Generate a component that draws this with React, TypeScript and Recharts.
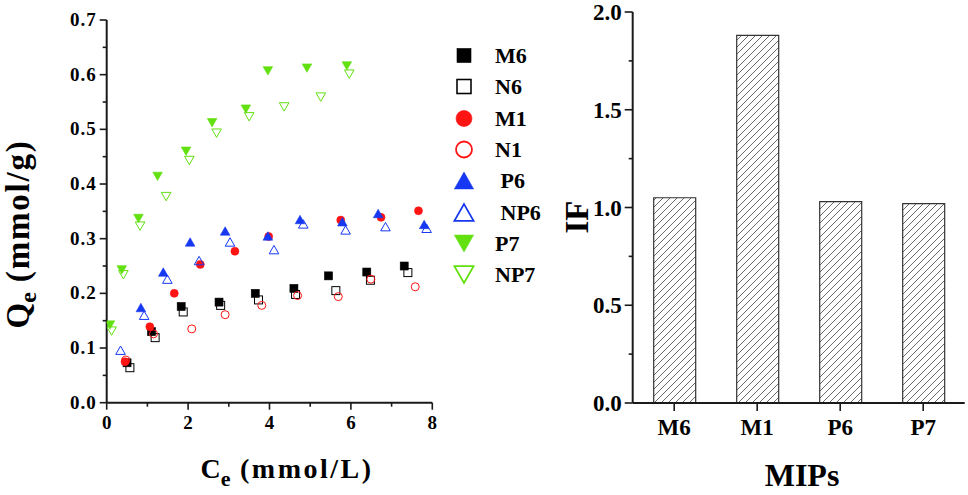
import React from 'react';
import { ScatterChart, Scatter, XAxis, YAxis, BarChart, Bar, Legend, Label } from 'recharts';

const FONT = '"Liberation Serif", "Times New Roman", serif';
const INK = '#1a1a1a';

// ---------- Left chart data: Qe vs Ce ----------
const M6 = [
  { x: 0.5, y: 0.073 }, { x: 1.1, y: 0.13 }, { x: 1.83, y: 0.176 }, { x: 2.76, y: 0.184 },
  { x: 3.65, y: 0.2 }, { x: 4.6, y: 0.209 }, { x: 5.45, y: 0.232 }, { x: 6.39, y: 0.239 }, { x: 7.31, y: 0.25 },
];
const N6 = [
  { x: 0.57, y: 0.064 }, { x: 1.19, y: 0.119 }, { x: 1.88, y: 0.166 }, { x: 2.8, y: 0.178 },
  { x: 3.73, y: 0.188 }, { x: 4.64, y: 0.198 }, { x: 5.63, y: 0.205 }, { x: 6.48, y: 0.224 }, { x: 7.4, y: 0.238 },
];
const M1 = [
  { x: 0.45, y: 0.075 }, { x: 1.06, y: 0.139 }, { x: 1.66, y: 0.2 }, { x: 2.3, y: 0.253 }, { x: 3.15, y: 0.277 },
  { x: 3.98, y: 0.304 }, { x: 5.75, y: 0.334 }, { x: 6.74, y: 0.339 }, { x: 7.66, y: 0.351 },
];
const N1 = [
  { x: 0.47, y: 0.078 }, { x: 1.15, y: 0.126 }, { x: 2.09, y: 0.135 }, { x: 2.91, y: 0.161 }, { x: 3.81, y: 0.178 },
  { x: 4.69, y: 0.196 }, { x: 5.69, y: 0.194 }, { x: 6.49, y: 0.226 }, { x: 7.58, y: 0.212 },
];
const P6 = [
  { x: 0.84, y: 0.174 }, { x: 1.39, y: 0.239 }, { x: 2.05, y: 0.294 }, { x: 2.91, y: 0.314 },
  { x: 3.96, y: 0.305 }, { x: 4.75, y: 0.335 }, { x: 5.79, y: 0.331 }, { x: 6.67, y: 0.346 }, { x: 7.8, y: 0.326 },
];
const NP6 = [
  { x: 0.34, y: 0.096 }, { x: 0.92, y: 0.16 }, { x: 1.49, y: 0.226 }, { x: 2.27, y: 0.26 }, { x: 3.03, y: 0.294 },
  { x: 4.11, y: 0.28 }, { x: 4.83, y: 0.327 }, { x: 5.87, y: 0.316 }, { x: 6.85, y: 0.322 }, { x: 7.86, y: 0.319 },
];
const P7 = [
  { x: 0.08, y: 0.142 }, { x: 0.37, y: 0.243 }, { x: 0.78, y: 0.337 }, { x: 1.25, y: 0.414 }, { x: 1.95, y: 0.46 },
  { x: 2.59, y: 0.512 }, { x: 3.42, y: 0.537 }, { x: 3.96, y: 0.607 }, { x: 4.92, y: 0.612 }, { x: 5.9, y: 0.616 },
];
const NP7 = [
  { x: 0.12, y: 0.131 }, { x: 0.41, y: 0.234 }, { x: 0.82, y: 0.323 }, { x: 1.46, y: 0.377 }, { x: 2.03, y: 0.443 },
  { x: 2.7, y: 0.493 }, { x: 3.5, y: 0.523 }, { x: 4.36, y: 0.541 }, { x: 5.26, y: 0.559 }, { x: 5.96, y: 0.601 },
];

const X_TICKS = [0, 1, 2, 3, 4, 5, 6, 7, 8];
const Y_TICKS = [0, 0.05, 0.1, 0.15, 0.2, 0.25, 0.3, 0.35, 0.4, 0.45, 0.5, 0.55, 0.6, 0.65, 0.7];

// ---------- Right chart data: IF ----------
const MIP_NAMES = ['M6', 'M1', 'P6', 'P7'];
const IF_VALUES = [1.05, 1.88, 1.03, 1.02];
const IF_TICKS = [0, 0.25, 0.5, 0.75, 1, 1.25, 1.5, 1.75, 2];

const barData = MIP_NAMES.map((name, i) => ({ name, IF: IF_VALUES[i] }));

const RED = '#ff1414';
const BLUE = '#1638f2';
const GREEN = '#62e010';

type Kind = 'sqF' | 'sqO' | 'ciF' | 'ciO' | 'upF' | 'upO' | 'dnF' | 'dnO';

const SERIES: { name: string; label: string; data: { x: number; y: number }[]; kind: Kind; color: string }[] = [
  { name: 'M6', label: 'M6', data: M6, kind: 'sqF', color: '#000000' },
  { name: 'N6', label: 'N6', data: N6, kind: 'sqO', color: '#000000' },
  { name: 'M1', label: 'M1', data: M1, kind: 'ciF', color: RED },
  { name: 'N1', label: 'N1', data: N1, kind: 'ciO', color: RED },
  { name: 'P6', label: ' P6', data: P6, kind: 'upF', color: BLUE },
  { name: 'NP6', label: ' NP6', data: NP6, kind: 'upO', color: BLUE },
  { name: 'P7', label: 'P7', data: P7, kind: 'dnF', color: GREEN },
  { name: 'NP7', label: 'NP7', data: NP7, kind: 'dnO', color: GREEN },
];

function markerEl(kind: Kind, color: string, cx: number, cy: number, s: number) {
  const filled = kind.endsWith('F');
  const fill = filled ? color : 'none';
  const sw = filled ? 0.6 : Math.max(1, s / 9);
  const base = kind.slice(0, 2);
  if (base === 'sq') {
    return <rect x={cx - s / 2} y={cy - s / 2} width={s} height={s} fill={fill} stroke={color} strokeWidth={sw} />;
  }
  if (base === 'ci') {
    return <circle cx={cx} cy={cy} r={s / 2} fill={fill} stroke={color} strokeWidth={sw} />;
  }
  const w = s * 1.2;
  const h = s * 1.05;
  if (base === 'up') {
    const d = `M${cx},${cy - h / 2} L${cx + w / 2},${cy + h / 2} L${cx - w / 2},${cy + h / 2} Z`;
    return <path d={d} fill={fill} stroke={color} strokeWidth={sw} />;
  }
  const d = `M${cx - w / 2},${cy - h / 2} L${cx + w / 2},${cy - h / 2} L${cx},${cy + h / 2} Z`;
  return <path d={d} fill={fill} stroke={color} strokeWidth={sw} />;
}

const makeShape = (kind: Kind, color: string) => (props: any) => {
  const { cx, cy } = props;
  if (cx == null || cy == null) return <g />;
  return markerEl(kind, color, cx, cy, 8);
};

const LegendContent = () => (
  <div style={{ fontFamily: FONT, fontWeight: 'bold', fontSize: 22, color: '#000' }}>
    {SERIES.map((s) => (
      <div key={s.name} style={{ height: 31.3, display: 'flex', alignItems: 'center' }}>
        <svg width={32} height={31} style={{ display: 'block' }}>
          {markerEl(s.kind, s.color, 16, 15.5, s.kind.startsWith('sq') ? 14 : 16)}
        </svg>
        <span style={{ marginLeft: 15, whiteSpace: 'pre', lineHeight: '31px' }}>{s.label}</span>
      </div>
    ))}
  </div>
);

const txtStyle = { fontFamily: FONT, fontWeight: 'bold' as const };

const LeftXTick = (props: any) => {
  const { x, y, payload } = props;
  const v = payload.value;
  const major = v % 2 === 0;
  return (
    <g>
      <line x1={x} y1={y} x2={x} y2={y + (major ? 7 : 4)} stroke={INK} strokeWidth={1.6} />
      {major && (
        <text x={x} y={y + 26} textAnchor="middle" style={txtStyle} fontSize={19} fill="#000">
          {v}
        </text>
      )}
    </g>
  );
};

const LeftYTick = (props: any) => {
  const { x, y, payload } = props;
  const v = payload.value;
  const major = Math.round(v * 100) % 10 === 0;
  return (
    <g>
      <line x1={x - (major ? 7 : 4)} y1={y} x2={x} y2={y} stroke={INK} strokeWidth={1.6} />
      {major && (
        <text x={x - 10} y={y + 6} textAnchor="end" style={txtStyle} fontSize={19} letterSpacing={1} fill="#000">
          {v.toFixed(1)}
        </text>
      )}
    </g>
  );
};

const RightXTick = (props: any) => {
  const { x, y, payload } = props;
  return (
    <g>
      <line x1={x} y1={y} x2={x} y2={y + 8} stroke={INK} strokeWidth={1.6} />
      <text x={x} y={y + 32} textAnchor="middle" style={txtStyle} fontSize={23} fill="#000">
        {payload.value}
      </text>
    </g>
  );
};

const RightYTick = (props: any) => {
  const { x, y, payload } = props;
  const v = payload.value;
  const major = Math.round(v * 100) % 50 === 0;
  return (
    <g>
      <line x1={x - (major ? 8 : 4)} y1={y} x2={x} y2={y} stroke={INK} strokeWidth={1.6} />
      {major && (
        <text x={x - 11} y={y + 8} textAnchor="end" style={txtStyle} fontSize={23} fill="#000">
          {v.toFixed(1)}
        </text>
      )}
    </g>
  );
};

const LeftYTitle = () => (
  <text transform="rotate(-90, 29, 234)" x={29} y={234} textAnchor="middle" style={{ ...txtStyle, whiteSpace: 'pre' }} fontSize={33} fill="#000">
    Q<tspan fontSize={24} dy={7}>e</tspan>
    <tspan dy={-7} letterSpacing={1.8}> (mmol/g)</tspan>
  </text>
);

const LeftXTitle = () => (
  <text x={287} y={478} textAnchor="middle" style={{ ...txtStyle, whiteSpace: 'pre' }} fontSize={28} fill="#000">
    C<tspan fontSize={22} dy={8}>e</tspan>
    <tspan dy={-8} letterSpacing={2.5}> (mmol/L)</tspan>
  </text>
);

const RightYTitle = () => (
  <text transform="rotate(-90, 28, 217)" x={28} y={217} textAnchor="middle" style={txtStyle} fontSize={33} fill="#000">
    IF
  </text>
);

const RightXTitle = () => (
  <text x={242} y={486} textAnchor="middle" style={txtStyle} fontSize={32} fill="#000">
    MIPs
  </text>
);

export default function App() {
  return (
    <div style={{ position: 'absolute', left: 0, top: 0, width: 968, height: 495, background: '#fff', overflow: 'hidden' }}>
      <div style={{ position: 'absolute', left: 0, top: 0 }}>
        <ScatterChart width={560} height={495} margin={{ top: 20, right: 127.7, left: 46.7, bottom: 62.3 }}>
          <XAxis
            type="number"
            dataKey="x"
            domain={[0, 8]}
            ticks={X_TICKS}
            interval={0}
            height={30}
            tickSize={0}
            tickMargin={0}
            tickLine={false}
            tick={<LeftXTick />}
            axisLine={{ stroke: INK, strokeWidth: 2 }}
            allowDataOverflow
          >
            <Label content={<LeftXTitle />} />
          </XAxis>
          <YAxis
            type="number"
            dataKey="y"
            domain={[0, 0.7]}
            ticks={Y_TICKS}
            interval={0}
            width={60}
            tickSize={0}
            tickMargin={0}
            tickLine={false}
            tick={<LeftYTick />}
            axisLine={{ stroke: INK, strokeWidth: 2 }}
            allowDataOverflow
          >
            <Label content={<LeftYTitle />} />
          </YAxis>
          <Legend
            layout="vertical"
            align="center"
            verticalAlign="middle"
            content={<LegendContent />}
            wrapperStyle={{ left: 448, top: 40, width: 110 }}
          />
          {SERIES.map((s) => (
            <Scatter
              key={s.name}
              name={s.name}
              data={s.data}
              fill={s.color}
              shape={makeShape(s.kind, s.color)}
              isAnimationActive={false}
            />
          ))}
        </ScatterChart>
      </div>
      <div style={{ position: 'absolute', left: 560, top: 0 }}>
        <BarChart width={408} height={495} data={barData} margin={{ top: 12, right: 3.3, left: 0, bottom: 62 }} barSize={42}>
          <defs>
            <pattern id="hatch" patternUnits="userSpaceOnUse" width="7" height="7">
              <rect width="7" height="7" fill="#fff" />
              <path d="M0,7 L7,0 M-1.75,1.75 L1.75,-1.75 M5.25,8.75 L8.75,5.25" stroke="#444" strokeWidth="0.8" />
            </pattern>
          </defs>
          <XAxis
            dataKey="name"
            height={30}
            tickSize={0}
            tickMargin={0}
            tickLine={false}
            tick={<RightXTick />}
            axisLine={{ stroke: INK, strokeWidth: 2 }}
            interval={0}
          >
            <Label content={<RightXTitle />} />
          </XAxis>
          <YAxis
            type="number"
            domain={[0, 2]}
            ticks={IF_TICKS}
            interval={0}
            width={72.7}
            tickSize={0}
            tickMargin={0}
            tickLine={false}
            tick={<RightYTick />}
            axisLine={{ stroke: INK, strokeWidth: 2 }}
          >
            <Label content={<RightYTitle />} />
          </YAxis>
          <Bar dataKey="IF" fill="url(#hatch)" stroke="#333" strokeWidth={1.2} isAnimationActive={false} />
        </BarChart>
      </div>
    </div>
  );
}
